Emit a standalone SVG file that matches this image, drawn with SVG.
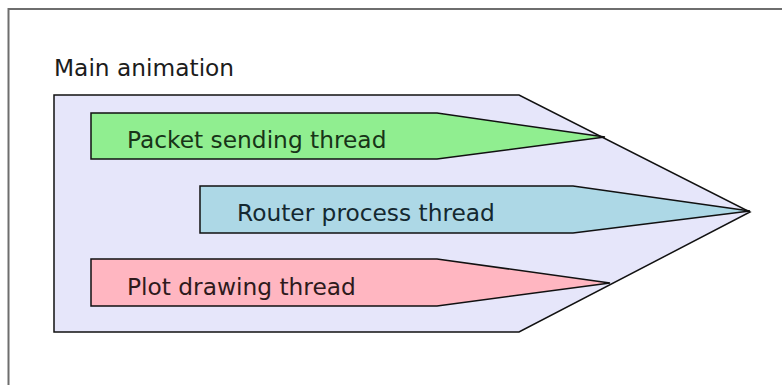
<svg xmlns="http://www.w3.org/2000/svg" width="783" height="385" viewBox="0 0 783 385">
<style>
.shape{stroke:#111;stroke-width:1.5;stroke-linejoin:miter}
.lbl{font-family:"DejaVu Sans",sans-serif;font-size:23.3px;fill:#1c1c1c}
</style>
<rect x="0" y="0" width="783" height="385" fill="#fff"/>
<path d="M8.5,385 V9 H782" fill="none" stroke="#6e6e6e" stroke-width="2"/>
<text class="lbl" x="54" y="76">Main animation</text>
<g id="main">
<polygon class="shape" fill="#e6e6fa" points="54,95 519,95 750,212 519,332 54,332"/>
</g>
<g id="packet">
<polygon class="shape" fill="#90ee90" points="91,113 437,113 605,137 437,159 91,159"/>
<text class="lbl" x="127" y="148" fill="#183418" style="fill:#183418">Packet sending thread</text>
</g>
<g id="router">
<polygon class="shape" fill="#add8e6" points="200,186 573,186 750,211 573,233 200,233"/>
<text class="lbl" x="237" y="221" style="fill:#142830">Router process thread</text>
</g>
<g id="plot">
<polygon class="shape" fill="#ffb6c1" points="91,259 437,259 610,283 437,306 91,306"/>
<text class="lbl" x="127" y="295" style="fill:#2e1a1c">Plot drawing thread</text>
</g>
<g id="connectors"></g>
</svg>
